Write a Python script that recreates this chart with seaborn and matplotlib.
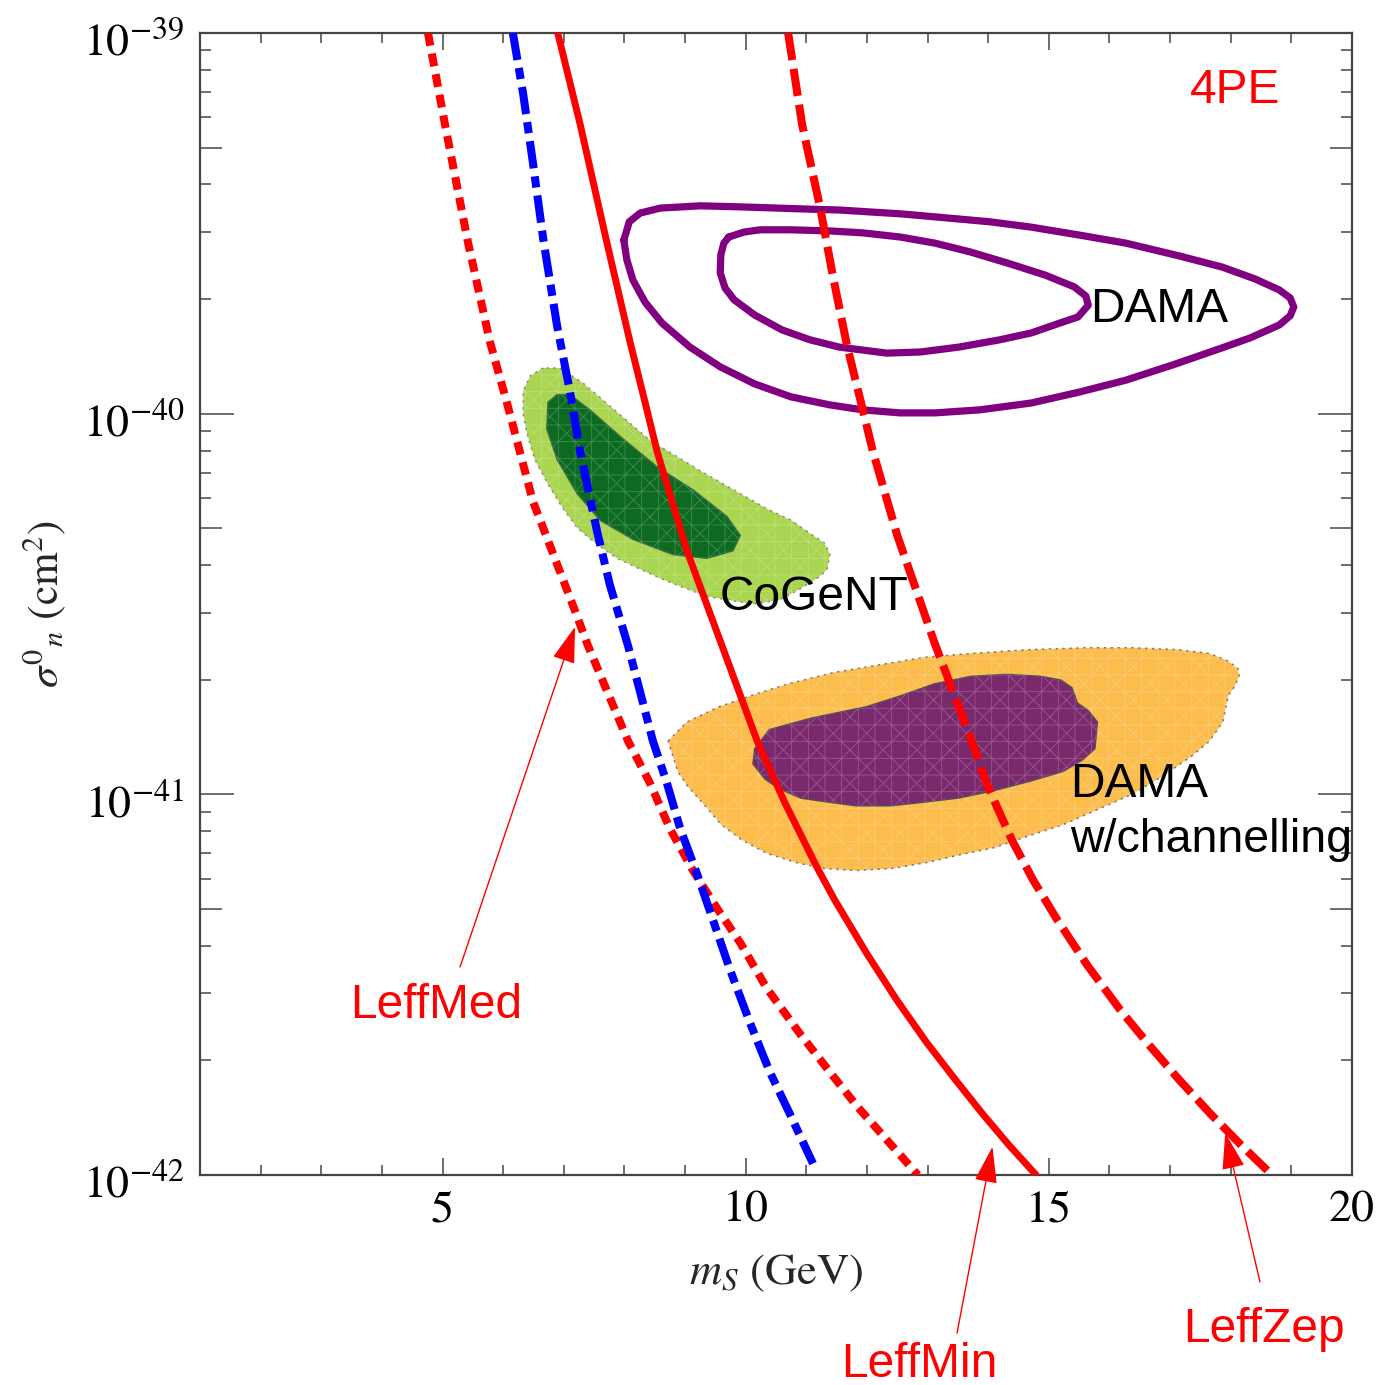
import numpy as np
import pandas as pd
import matplotlib
matplotlib.use("Agg")
import matplotlib.pyplot as plt
import seaborn as sns
from matplotlib.ticker import (FixedLocator, MultipleLocator, LogLocator,
                               NullFormatter, FuncFormatter, NullLocator)
from matplotlib.transforms import ScaledTranslation

# ---------------------------------------------------------------------------
# Exclusion limits: scalar mass m_S (GeV) and log10(sigma_n / cm^2)
# ---------------------------------------------------------------------------
leffmed_m = [4.76, 5.04, 5.42, 5.78, 6.06, 6.49, 7.19, 7.40, 8.06, 8.42, 8.75,
             9.13, 9.53, 9.91, 10.35, 10.90, 11.44, 11.84, 12.84]
leffmed_logsig = [-39.00, -39.24, -39.55, -39.81, -39.97, -40.23, -40.52, -40.61,
                  -40.86, -40.97, -41.09, -41.20, -41.30, -41.39, -41.51, -41.63,
                  -41.74, -41.82, -42.00]

blue_m = [6.16, 6.33, 6.49, 6.66, 6.89, 7.10, 7.27, 7.55, 7.76, 8.06, 8.47,
          8.70, 8.92, 9.20, 9.46, 9.74, 10.07, 10.40, 10.73, 11.11]
blue_logsig = [-39.00, -39.16, -39.34, -39.54, -39.77, -39.94, -40.10, -40.31,
               -40.45, -40.61, -40.86, -40.97, -41.09, -41.21, -41.33, -41.46,
               -41.60, -41.73, -41.84, -41.97]

leffmin_m = [6.90, 7.27, 7.71, 8.09, 8.34, 8.54, 9.03, 9.61, 10.19, 10.64,
             11.17, 11.47, 12.00, 12.49, 12.98, 13.46, 13.91, 14.34, 14.79]
leffmin_logsig = [-39.00, -39.24, -39.55, -39.81, -39.97, -40.10, -40.36, -40.61,
                  -40.86, -41.02, -41.19, -41.278, -41.419, -41.540, -41.651,
                  -41.750, -41.840, -41.921, -42.00]

leffzep_m = [10.70, 10.93, 11.23, 11.44, 11.67, 12.10, 12.50, 13.11, 13.72,
             13.95, 14.13, 14.39, 14.74, 15.14, 15.63, 16.18, 16.65, 17.15,
             17.67, 18.17, 18.68]
leffzep_logsig = [-39.00, -39.24, -39.46, -39.64, -39.82, -40.10, -40.32, -40.60,
                  -40.857, -40.962, -41.028, -41.120, -41.225, -41.330, -41.448,
                  -41.567, -41.658, -41.750, -41.840, -41.921, -42.00]

# ---------------------------------------------------------------------------
# Signal regions (closed outlines)
# ---------------------------------------------------------------------------
dama_outer_m = [7.99, 8.08, 8.26, 8.59, 9.25, 9.97, 10.90, 11.54, 12.55, 13.12,
                14.03, 14.71, 15.51, 16.27, 17.16, 17.86, 18.40, 18.80, 18.98,
                19.04, 18.98, 18.80, 18.32, 17.86, 17.08, 16.27, 15.51, 14.71,
                13.86, 13.12, 12.55, 11.93, 11.39, 10.75, 10.15, 9.58, 9.08,
                8.62, 8.34, 8.14, 8.04]
dama_outer_logsig = [-39.544, -39.496, -39.473, -39.460, -39.454, -39.457, -39.462,
                     -39.465, -39.475, -39.483, -39.496, -39.510, -39.531, -39.552,
                     -39.586, -39.615, -39.646, -39.675, -39.696, -39.720, -39.743,
                     -39.767, -39.801, -39.827, -39.870, -39.912, -39.943, -39.972,
                     -39.990, -39.998, -39.998, -39.990, -39.977, -39.956, -39.922,
                     -39.877, -39.825, -39.762, -39.707, -39.649, -39.596]

dama_inner_m = [9.72, 9.64, 9.59, 9.58, 9.66, 9.81, 10.15, 10.60, 11.06, 11.54,
                12.33, 12.88, 13.52, 14.19, 14.71, 15.18, 15.48, 15.65, 15.61,
                15.42, 14.94, 14.31, 13.70, 13.12, 12.55, 11.93, 11.39, 10.75,
                10.24, 9.97]
dama_inner_logsig = [-39.536, -39.552, -39.583, -39.630, -39.670, -39.701, -39.741,
                     -39.780, -39.806, -39.825, -39.841, -39.838, -39.825, -39.806,
                     -39.788, -39.762, -39.746, -39.715, -39.691, -39.667, -39.636,
                     -39.604, -39.575, -39.552, -39.536, -39.525, -39.520, -39.517,
                     -39.517, -39.523]

cogent_outer_m = [6.66, 6.45, 6.33, 6.33, 6.39, 6.52, 6.72, 6.95, 7.22, 7.52,
                  7.88, 8.28, 8.70, 9.36, 10.12, 10.55, 10.90, 11.20, 11.34, 11.39,
                  11.30, 11.11, 10.75, 10.35, 9.80, 9.25, 8.42, 7.76, 7.32, 6.94]
cogent_outer_logsig = [-39.88, -39.90, -39.94, -40.00, -40.05, -40.12, -40.18,
                       -40.24, -40.30, -40.34, -40.38, -40.41, -40.44, -40.48,
                       -40.50, -40.49, -40.46, -40.43, -40.41, -40.37, -40.34,
                       -40.32, -40.28, -40.25, -40.20, -40.15, -40.07, -39.98,
                       -39.92, -39.88]

cogent_inner_m = [6.89, 6.74, 6.72, 6.89, 7.22, 7.60, 8.14, 8.80, 9.36, 9.79,
                  9.91, 9.69, 9.13, 8.54, 7.93, 7.43, 7.10]
cogent_inner_logsig = [-39.95, -39.97, -40.04, -40.12, -40.21, -40.28, -40.33, -40.37,
                       -40.38, -40.36, -40.32, -40.27, -40.20, -40.14, -40.06, -39.99,
                       -39.95]

damach_outer_m = [8.72, 9.03, 9.56, 10.10, 10.70, 11.45, 12.20, 12.95, 13.72,
                  14.65, 15.61, 16.40, 17.13, 17.65, 17.96, 18.12, 18.14, 18.05,
                  17.96, 17.87, 17.65, 17.35, 16.90, 16.37, 15.80, 15.23, 14.65,
                  14.10, 13.50, 12.96, 12.40, 11.82, 11.30, 10.85, 10.35, 9.94,
                  9.60, 9.33, 9.05, 8.88]
damach_outer_logsig = [-40.86, -40.81, -40.77, -40.74, -40.71, -40.68, -40.66,
                       -40.64, -40.63, -40.62, -40.615, -40.615, -40.62, -40.63,
                       -40.65, -40.67, -40.69, -40.72, -40.74, -40.81, -40.86,
                       -40.90, -40.95, -41.00, -41.04, -41.08, -41.11, -41.14,
                       -41.16, -41.18, -41.195, -41.20, -41.195, -41.18, -41.155,
                       -41.12, -41.08, -41.03, -40.98, -40.94]

damach_inner_m = [10.15, 10.39, 11.08, 11.99, 12.58, 13.11, 13.72, 14.30, 14.86,
                  15.20, 15.38, 15.47, 15.65, 15.80, 15.76, 15.55, 15.23, 14.70,
                  14.10, 13.50, 12.96, 12.40, 11.82, 11.35, 10.91, 10.55, 10.32,
                  10.12]
damach_inner_logsig = [-40.88, -40.83, -40.80, -40.77, -40.74, -40.71, -40.69, -40.685,
                       -40.69, -40.70, -40.72, -40.76, -40.78, -40.81, -40.88, -40.91,
                       -40.94, -40.965, -40.99, -41.01, -41.02, -41.03, -41.03,
                       -41.02, -41.01, -40.985, -40.96, -40.92]

y_decades = [1e-42, 1e-41, 1e-40, 1e-39]
y_halfdecades = [5e-42, 5e-41, 5e-40]
x_major = [5, 10, 15, 20]

# ---------------------------------------------------------------------------
# Style
# ---------------------------------------------------------------------------
sns.set_theme(style="white")
plt.rcParams["font.family"] = ["STIXGeneral", "DejaVu Serif"]
plt.rcParams["mathtext.fontset"] = "stix"
plt.rcParams["hatch.linewidth"] = 0.6
SANS = ["Liberation Sans", "DejaVu Sans"]

fig = plt.figure(figsize=(13.82, 13.85), dpi=100)
ax = fig.add_axes([200 / 1382, 210 / 1385, 1152 / 1382, 1142 / 1385])
ax.set_facecolor("white")


def sig(logsig):
    return 10.0 ** np.asarray(logsig)


def region(m, logsig, face, edge, ls, z):
    s = sig(logsig)
    ax.fill(m, s, facecolor=face, edgecolor=edge, lw=1.1, linestyle=ls, zorder=z)
    ax.fill(m, s, facecolor="none", edgecolor=(1, 1, 1, 0.22), hatch="+x",
            lw=0, zorder=z + 0.05)


region(cogent_outer_m, cogent_outer_logsig, "#aad550", "#8a8a8a", (0, (1.5, 3)), 1.0)
region(cogent_inner_m, cogent_inner_logsig, "#0c6b20", "#3d6b45", "-", 1.2)
region(damach_outer_m, damach_outer_logsig, "#fcbd4d", "#777777", (0, (1.5, 3)), 1.0)
region(damach_inner_m, damach_inner_logsig, "#7b296d", "#5a4a5a", "-", 1.2)


def closed_line(m, logsig, **kw):
    mm = list(m) + [m[0]]
    ss = list(sig(logsig)) + [sig(logsig)[0]]
    df = pd.DataFrame({"m": mm, "sigma": ss})
    sns.lineplot(data=df, x="m", y="sigma", ax=ax, estimator=None, sort=False,
                 legend=False, **kw)


closed_line(dama_outer_m, dama_outer_logsig, color="#800080", lw=5.2,
            solid_joinstyle="round", zorder=2)
closed_line(dama_inner_m, dama_inner_logsig, color="#800080", lw=5.2,
            solid_joinstyle="round", zorder=2)


def limit(m, logsig, **kw):
    df = pd.DataFrame({"m": m, "sigma": sig(logsig)})
    sns.lineplot(data=df, x="m", y="sigma", ax=ax, estimator=None, sort=False,
                 legend=False, **kw)


limit(leffmed_m, leffmed_logsig, color="#ff0000", lw=5.8,
      linestyle=(0, (1.6, 1.0)), zorder=3)
limit(blue_m, blue_logsig, color="#0000ff", lw=5.8,
      linestyle=(0, (3.4, 1.0, 1.4, 1.0)), zorder=3)
limit(leffmin_m, leffmin_logsig, color="#ff0000", lw=5.0,
      solid_joinstyle="round", zorder=3)
limit(leffzep_m, leffzep_logsig, color="#ff0000", lw=5.8,
      linestyle=(0, (3.4, 1.1)), zorder=3)

# ---------------------------------------------------------------------------
# Axes, ticks
# ---------------------------------------------------------------------------
ax.set_xlim(1, 20)
ax.set_yscale("log")
ax.set_ylim(1e-42, 1e-39)

ax.xaxis.set_major_locator(FixedLocator(x_major))
ax.xaxis.set_minor_locator(MultipleLocator(1))
ax.xaxis.set_major_formatter(FuncFormatter(lambda v, p: f"{v:g}"))
ax.yaxis.set_major_locator(FixedLocator(y_decades))
ax.yaxis.set_minor_locator(LogLocator(base=10, subs=[2, 3, 4, 6, 7, 8, 9], numticks=50))
ax.yaxis.set_major_formatter(
    FuncFormatter(lambda v, p: r"$10^{%d}$" % int(round(np.log10(v)))))
ax.yaxis.set_minor_formatter(NullFormatter())

tick_col = "#555555"
ax.tick_params(axis="x", which="major", direction="in", length=12, width=1.2,
               color=tick_col, top=True, bottom=True, labelsize=33, pad=11,
               labelcolor="black")
ax.tick_params(axis="x", which="minor", direction="in", length=7, width=1.2,
               color=tick_col, top=True, bottom=True)
ax.tick_params(axis="y", which="major", direction="in", length=24.5, width=1.2,
               color=tick_col, left=True, right=True, labelsize=33, pad=11,
               labelcolor="black")
ax.tick_params(axis="y", which="minor", direction="in", length=8, width=1.2,
               color=tick_col, left=True, right=True)

# half-decade marks, a bit longer than the other minor ticks
for side in ("left", "right"):
    sec = ax.secondary_yaxis(side)
    sec.yaxis.set_major_locator(FixedLocator(y_halfdecades))
    sec.yaxis.set_minor_locator(NullLocator())
    sec.yaxis.set_major_formatter(NullFormatter())
    sec.tick_params(which="major", direction="in", length=16, width=1.2,
                    color=tick_col, labelleft=False, labelright=False)
    for sp in sec.spines.values():
        sp.set_visible(False)

for sp in ax.spines.values():
    sp.set_color("#444444")
    sp.set_linewidth(1.6)

ax.set_xlabel(r"$m_S\ (\mathrm{GeV})$", fontsize=32)
ax.xaxis.set_label_coords(0.5, -0.068)
ax.set_ylabel(r"$\sigma^{0}{}_{n}\ (\mathrm{cm}^{2})$", fontsize=31)
ax.yaxis.set_label_coords(-0.115, 0.5)

# drop the decade labels slightly below their ticks
fig.canvas.draw()
shift = ScaledTranslation(0, -6 / 100, fig.dpi_scale_trans)
for tk in ax.yaxis.get_major_ticks():
    tk.label1.set_transform(tk.label1.get_transform() + shift)

# ---------------------------------------------------------------------------
# Annotations
# ---------------------------------------------------------------------------
ax.text(18.07, 10 ** -39.184, "4PE", color="#ff0000", fontsize=34.5, family=SANS,
        ha="center", va="baseline", zorder=5)
ax.text(15.68, 10 ** -39.759, "DAMA", color="black", fontsize=34.5, family=SANS,
        ha="left", va="baseline", zorder=5)
ax.text(9.577, 10 ** -40.516, "CoGeNT", color="black", fontsize=34.5, family=SANS,
        ha="left", va="baseline", zorder=5)
ax.text(15.35, 10 ** -41.007, "DAMA", color="black", fontsize=34.5, family=SANS,
        ha="left", va="baseline", zorder=5)
ax.text(15.35, 10 ** -41.151, "w/channelling", color="black", fontsize=33.5,
        family=SANS, ha="left", va="baseline", zorder=5)

labels = [
    ("LeffMed", (0.3155, 0.2650), (0.3329, 0.3018), (7.185, 10 ** -40.560)),
    ("LeffMin", (0.6653, 0.0058), (0.6925, 0.0375), (14.07, 10 ** -41.926)),
    ("LeffZep", (0.9146, 0.0311), (0.9117, 0.0744), (17.91, 10 ** -41.890)),
]
for name, pos, tail, tip in labels:
    fig.text(pos[0], pos[1], name, color="#ff0000", fontsize=34.5, family=SANS,
             ha="center", va="baseline")
    ax.annotate("", xy=tip, xycoords="data", xytext=tail,
                textcoords="figure fraction", annotation_clip=False,
                arrowprops=dict(arrowstyle="-|>,head_length=1.15,head_width=0.36",
                                mutation_scale=20, color="#ff0000", lw=1.0,
                                shrinkA=0, shrinkB=0),
                zorder=6)

fig.savefig("out.png", dpi=100)
